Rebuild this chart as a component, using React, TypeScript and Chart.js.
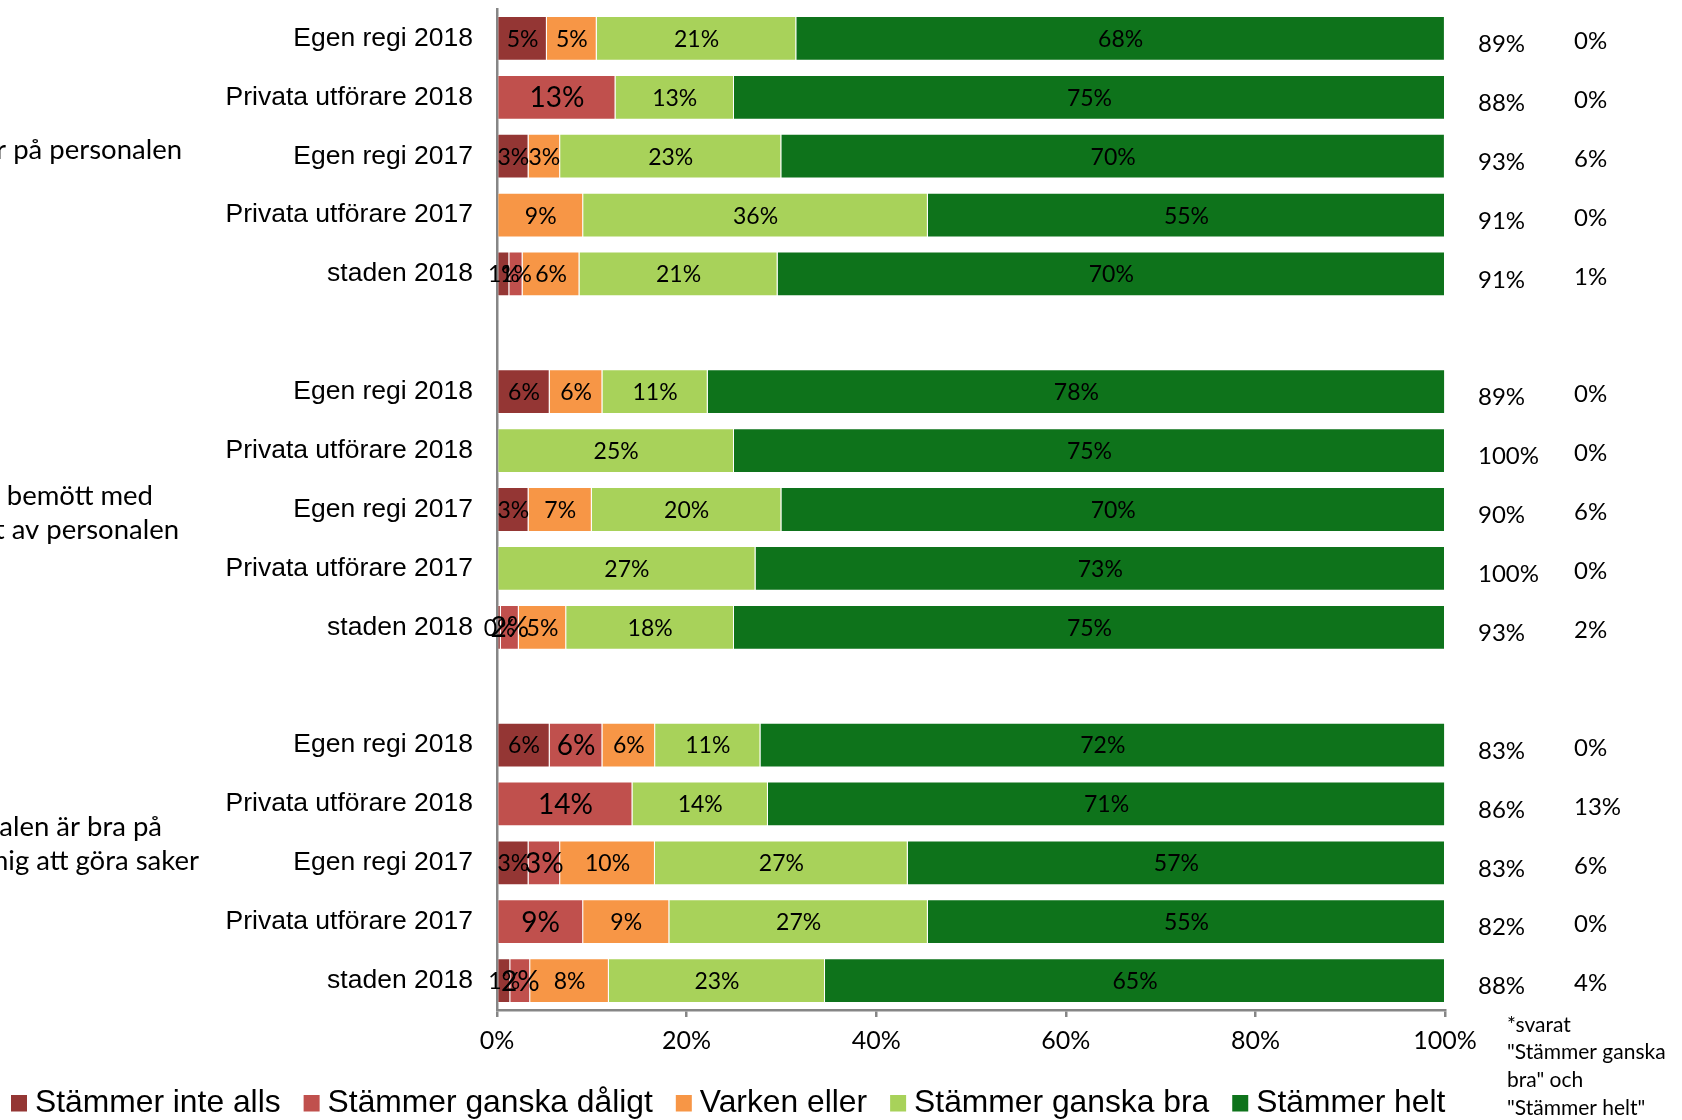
import React, { useEffect, useRef } from 'react';
import { Chart, registerables } from 'chart.js';

Chart.register(...registerables);

const categories = [
  'Egen regi 2018', 'Privata utförare 2018', 'Egen regi 2017', 'Privata utförare 2017', 'staden 2018',
  '',
  'Egen regi 2018', 'Privata utförare 2018', 'Egen regi 2017', 'Privata utförare 2017', 'staden 2018',
  '',
  'Egen regi 2018', 'Privata utförare 2018', 'Egen regi 2017', 'Privata utförare 2017', 'staden 2018',
];

const seriesNames = ['Stämmer inte alls', 'Stämmer ganska dåligt', 'Varken eller', 'Stämmer ganska bra', 'Stämmer helt'];
const seriesColors = ['#943634', '#C0504D', '#F79646', '#A8D25A', '#0E731B'];

const stammerInteAlls = [5.26, 0, 3.33, 0, 1.3, null, 5.56, 0, 3.33, 0, 0.4, null, 5.56, 0, 3.33, 0, 1.4];
const stammerGanskaDaligt = [0, 12.5, 0, 0, 1.4, null, 0, 0, 0, 0, 1.9, null, 5.56, 14.29, 3.33, 9.09, 2.1];
const varkenEller = [5.26, 0, 3.33, 9.09, 6.0, null, 5.56, 0, 6.67, 0, 5.0, null, 5.56, 0, 10, 9.09, 8.3];
const stammerGanskaBra = [21.05, 12.5, 23.33, 36.36, 20.9, null, 11.11, 25, 20, 27.27, 17.7, null, 11.11, 14.29, 26.67, 27.27, 22.8];
const stammerHelt = [68.42, 75, 70, 54.55, 70.4, null, 77.78, 75, 70, 72.73, 75.0, null, 72.22, 71.43, 56.67, 54.55, 65.4];

const andelNojda = ['89%', '88%', '93%', '91%', '91%', '', '89%', '100%', '90%', '100%', '93%', '', '83%', '86%', '83%', '82%', '88%'];
const andelKolumn2 = ['0%', '0%', '6%', '0%', '1%', '', '0%', '0%', '6%', '0%', '2%', '', '0%', '13%', '6%', '0%', '4%'];

const groupLabels = [
  ['Jag litar på personalen'],
  ['Jag blir bemött med', 'respekt av personalen'],
  ['Personalen är bra på', 'att hjälpa mig att göra saker'],
];
const groupMiddleRows = [2, 8, 14];

const xTicks = [0, 20, 40, 60, 80, 100];

const footnoteLines = ['*svarat', '"Stämmer ganska', 'bra" och', '"Stämmer helt"'];

const LATO = 'Lato, "Open Sans", sans-serif';
const ARIAL = '"Liberation Sans", Arial, sans-serif';

const overlayPlugin = {
  id: 'overlay',
  afterDatasetsDraw(chart: any) {
    const ctx = chart.ctx;
    ctx.save();
    ctx.fillStyle = '#000';
    ctx.textBaseline = 'middle';
    ctx.textAlign = 'center';
    chart.data.datasets.forEach((ds: any, di: number) => {
      const meta = chart.getDatasetMeta(di);
      meta.data.forEach((el: any, i: number) => {
        const v = ds.data[i];
        if (v == null || v <= 0) return;
        const big = di === 1 && i !== 4;
        ctx.font = `${big ? 28 : 23}px ${LATO}`;
        const cx = (el.x + el.base) / 2;
        ctx.fillText(Math.round(v) + '%', cx, el.y + 1);
      });
    });
    ctx.restore();
  },
  afterDraw(chart: any) {
    const ctx = chart.ctx;
    const y = chart.scales.y;
    ctx.save();
    ctx.fillStyle = '#000';

    // group labels (cut by left edge)
    ctx.font = `27.5px ${LATO}`;
    ctx.textAlign = 'right';
    ctx.textBaseline = 'middle';
    const groupRightEnds = [[182], [153, 179], [162, 199]];
    const groupOffsets = [-6, 4, -19];
    groupLabels.forEach((lines, g) => {
      const cy = y.getPixelForValue(groupMiddleRows[g]) + groupOffsets[g];
      const lh = 34;
      lines.forEach((line, li) => {
        const ly = cy + (li - (lines.length - 1) / 2) * lh;
        ctx.fillText(line, groupRightEnds[g][li], ly);
      });
    });

    // right columns
    ctx.font = `24px ${LATO}`;
    ctx.textAlign = 'left';
    categories.forEach((_, i) => {
      const py = y.getPixelForValue(i);
      if (andelNojda[i]) ctx.fillText(andelNojda[i], 1478, py + 6);
      if (andelKolumn2[i]) ctx.fillText(andelKolumn2[i], 1574, py + 3);
    });

    // footnote
    ctx.font = `21px ${LATO}`;
    footnoteLines.forEach((line, i) => {
      ctx.fillText(line, 1507, 1025 + i * 27.7);
    });

    // legend
    ctx.font = `31.8px ${ARIAL}`;
    ctx.textBaseline = 'alphabetic';
    let lx = 11;
    chart.data.datasets.forEach((ds: any) => {
      ctx.fillStyle = ds.backgroundColor;
      ctx.fillRect(lx, 1095, 16, 16.5);
      ctx.fillStyle = '#000';
      ctx.fillText(ds.label, lx + 24, 1112);
      lx += 24 + ctx.measureText(ds.label).width + 23;
    });
    ctx.restore();
  },
};

export default function App() {
  const canvasRef = useRef<HTMLCanvasElement | null>(null);

  useEffect(() => {
    const canvas = canvasRef.current;
    if (!canvas) return;
    const seriesData = [stammerInteAlls, stammerGanskaDaligt, varkenEller, stammerGanskaBra, stammerHelt];
    const chart = new Chart(canvas, {
      type: 'bar',
      data: {
        labels: categories,
        datasets: seriesNames.map((name, i) => ({
          label: name,
          data: seriesData[i],
          backgroundColor: seriesColors[i],
          borderColor: 'rgba(255,255,255,0.45)',
          borderWidth: 1,
          categoryPercentage: 1,
          barPercentage: 0.76,
        })),
      },
      options: {
        indexAxis: 'y',
        animation: false,
        responsive: false,
        maintainAspectRatio: false,
        layout: { padding: { top: 9, right: 237, bottom: 10, left: 0 } },
        plugins: {
          legend: { display: false },
          tooltip: { enabled: false },
          title: { display: false },
        },
        scales: {
          x: {
            stacked: true,
            min: 0,
            max: 100,
            afterFit: (scale: any) => { scale.height = 100; },
            afterBuildTicks: (scale: any) => { scale.ticks = xTicks.map((v) => ({ value: v })); },
            ticks: {
              callback: (v: any) => v + '%',
              font: { family: LATO, size: 25 },
              color: '#000',
              padding: 9,
              maxRotation: 0,
            },
            grid: {
              drawOnChartArea: false,
              drawTicks: true,
              tickLength: 7,
              color: '#868686',
              lineWidth: 2.5,
            },
            border: { display: true, color: '#868686', width: 2.5 },
          },
          y: {
            stacked: true,
            afterFit: (scale: any) => {
              scale.width = 497;
              scale.paddingTop = 0;
              scale.paddingBottom = 0;
            },
            ticks: {
              autoSkip: false,
              font: { family: ARIAL, size: 26.5 },
              color: '#000',
              padding: 24,
            },
            grid: { display: false, drawTicks: false },
            border: { display: true, color: '#868686', width: 2.5 },
          },
        },
      },
      plugins: [overlayPlugin],
    });
    return () => chart.destroy();
  }, []);

  return (
    <div style={{ position: 'absolute', left: 0, top: 0, width: 1682, height: 1120, background: '#fff' }}>
      <canvas ref={canvasRef} width={1682} height={1120} style={{ width: 1682, height: 1120, display: 'block' }} />
    </div>
  );
}
